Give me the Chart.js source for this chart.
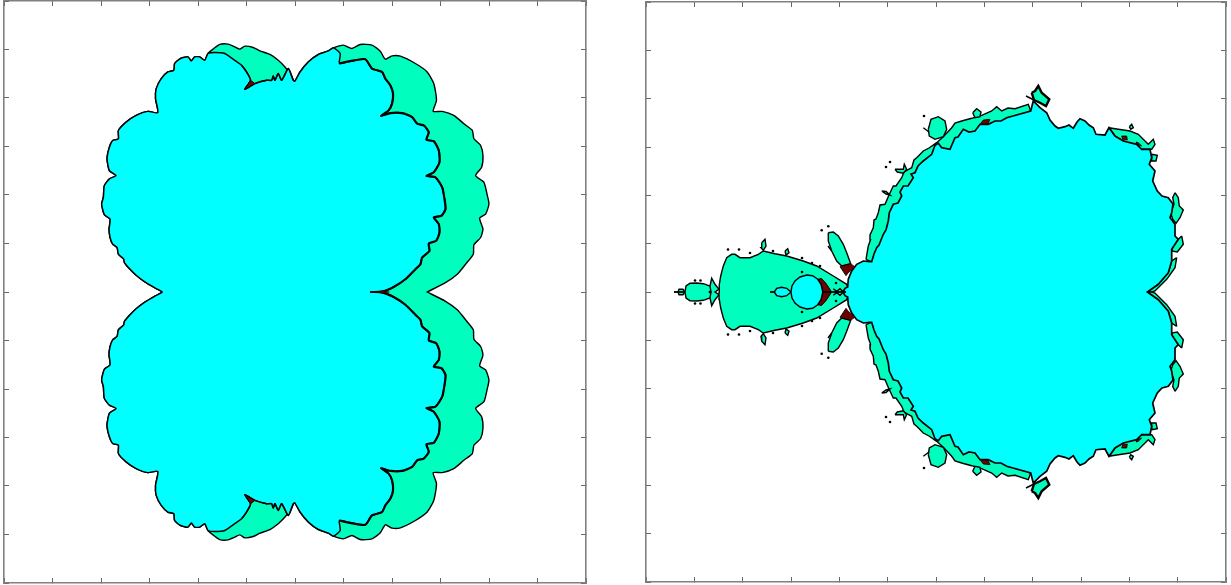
<!DOCTYPE html>
<html><head><meta charset="utf-8">
<style>html,body{margin:0;padding:0;background:#fff;overflow:hidden;width:1231px;height:585px}
.p{position:absolute;top:-2.5px;width:588px;height:588px}</style>
<script src="https://cdn.jsdelivr.net/npm/chart.js@4"></script></head>
<body><div class="p" style="left:1px"><canvas id="a"></canvas></div><div class="p" style="left:642px"><canvas id="b"></canvas></div>
<script>
const CYAN='#00FFFF',GREEN='#00FFBF',RED='#6B0000';
// Each list: upper half of a boundary, [x,y]; the figures are symmetric about y=0
const leftWest=[[158,0],[150,4.3],[140,10.3],[131.7,16.7],[125,23.3],[120,29.3],[119.3,32.7],[114,37.7],[112.7,44.3],[108.3,47.7],[105.7,54.3],[104.7,62.7],[105.7,72.7],[100,77],[97.3,87.7],[99,94.3],[100,106],[105,112.7],[111.7,116],[105,121],[102.7,132.7],[105,144.3],[108.3,151],[114,152.7],[114,161],[121.7,169.3],[131.7,176],[143.3,180],[153.3,178.7],[151,192.7],[151.7,202.7],[156.7,212.7],[163.3,219.3],[169.3,221],[170,227.7],[176,232.7],[183.3,234.3],[186.7,230.3],[190,234.3],[195,234.3],[200,231],[203.3,237.7]];
const leftOuterTop=[[208.3,242],[215,246.7],[223.3,247],[230,244.3],[235,242],[240,245],[248.3,243.7],[255,240.3],[265,236.7],[273.3,231],[280,224.3],[285,217.7]];
const leftNeck=[[289.7,210],[295,219.3],[303.3,229.3],[313.3,236.7],[323.3,240.3],[328.3,243.3]];
const leftOuterEast=[[338.3,246],[346.7,242.7],[355,246.7],[366.7,246],[375,240],[380,232],[386.7,235.3],[395,235],[410,227.7],[421.7,219.3],[428.3,207.7],[431,191],[427.7,180],[436.7,180],[448.3,176],[458.3,167.7],[466.7,161],[468.3,152.7],[475,146],[477.3,136],[476,124.3],[470,116],[478.3,109.3],[481.7,96],[483.3,87.7],[480,77.7],[474,73.7],[477.3,62.7],[475,54.3],[468.3,47],[467.7,37.7],[460,27.7],[451.7,17.7],[440,9.3],[421.7,0]];
const leftInnerTop=[[210,238.7],[220,237.7],[228.3,232],[236.7,226],[241.7,219.3],[245.7,211],[240,202],[250,207.7],[261.7,211],[266.7,211],[268.3,215.3],[270,211],[273.3,217.7],[276.7,211],[283.3,222.7],[288.3,211]];
const leftInnerEast=[[335,237.7],[334.3,227.7],[345,230],[360,232],[366.7,222.7],[376.7,219.3],[380,212.7],[385,206],[387.7,197.7],[386.7,187.7],[383.3,181],[375.7,175.5],[385,178.3],[396.7,178.3],[406.7,174.3],[411.7,167.7],[418.3,166],[423.3,159.3],[421,151.7],[428.3,150.3],[433.3,141],[434,129.3],[428.3,119.3],[421,115.7],[430,114.3],[436.7,104.3],[439,92.7],[440,82.7],[436,76],[428.3,74.3],[433.3,67.7],[434,59.3],[430.7,51],[423.3,48.3],[424,41],[416.7,34.3],[415,27.7],[410,22.7],[400,12.7],[388.3,5],[376.7,0.3],[365,0]];
const leftRedNotch=[[245.7,211],[240,202],[250,207.7],[247,210]];
const leftRedCusp=[[371,0],[377,1.2],[384,0]];
const rightCyan=[[197,0],[199,3.7],[201.7,5],[202.3,12.7],[205.7,21],[210.7,27.7],[217.3,31],[224,30.3],[225.7,30.3],[228,38],[230.7,44.3],[233,47],[237.3,57.7],[240,62],[242.3,71],[243.3,79.3],[247.3,87.7],[252,89],[255.7,96],[254,100],[257.3,106],[262,106],[267.3,114.3],[265,118],[269,119.3],[272,126],[277.3,131],[285.7,137.7],[289,146.7],[292.3,148.7],[295.7,144.3],[304,142.7],[309,154.3],[312,155],[317.3,162.7],[323,160],[329,161],[334,167.7],[342.3,167.7],[349,171],[355,171],[360.7,174.3],[384.7,181],[387.3,191],[394,184.3],[400.7,179.3],[404,172],[409,166],[412.3,163.7],[419,165.3],[423,167],[427.3,163.7],[431,170],[434,173.3],[439,171],[443,167],[447.3,164.3],[450,157.7],[459,157],[463,164.3],[469,156],[477.3,151],[490.7,147.7],[495.7,142.7],[504,142.7],[505.7,134.3],[503.3,127.7],[509,121],[506.7,111],[511.3,101],[516,96],[522.3,94.3],[527,88],[525.7,79.3],[524,74.3],[529,67.7],[529,56],[532.3,52.7],[525.7,42.7],[525.7,31],[522.3,19.3],[512.3,7.7],[501.3,0]];
const rightBody=[[73,0],[73.3,7.3],[74.7,16],[77.3,26],[80.7,34.3],[85.7,37.7],[89,37.7],[94,34.3],[104,34.3],[112.3,37.7],[117.3,41],[129,38.3],[140.7,36],[157.3,31],[170.7,26],[187.3,16],[200.7,7.7],[203,0]];
const rightFarBlob=[[39,0],[40,6],[44,8.7],[50.7,9],[57.3,8.3],[64,6],[67.3,1.7],[67.3,0]];
const rightFarTip=[[32,0],[33,2.7],[37,2.7],[39,0]];
const rightLeaf=[[65,0],[64,6],[65.7,13.7],[69,7.7],[73,2.7],[69,0]];
const rightBulb=[[145,0.3],[146,6],[149,11],[154,15],[160.7,17],[166.7,16.3],[171.7,12.7],[175,7.7],[176.7,0.3]];
const rightMini=[[128.3,0],[130.7,3.7],[135.7,4.7],[140.7,3.7],[145,0]];
const rightWedge=[[171.7,12.7],[175.5,13.5],[179.7,9],[185.7,0],[176.7,0],[175,7.7]];
const rightBand=[[220,32.7],[222.3,46],[224.5,52],[224,57],[227.3,64.3],[228,72],[230,73],[232.3,79.3],[234,87],[239,87.7],[243,97],[247.3,106],[250,106],[255.7,114.3],[258,120],[265.7,124.3],[268,132],[270.7,134.3],[277.3,141],[283,144],[290.7,149.3],[297.3,155.3],[305.7,164.3],[309,169],[315.7,171],[325.7,173.7],[335.7,176.7],[345.7,181],[350.7,185.3],[355.7,181],[362,184],[369,183.3],[382.3,187.7],[384.7,181],[330.7,155],[280.7,124.3],[245,57.7],[227.3,29.3]];
const rightPetal=[[182.3,59.3],[187.3,60],[192.3,56],[197.3,47.7],[200.7,39.3],[204.7,28.3],[195.7,26],[190.7,31],[185.7,41],[182.3,51]];
const rightPetalRed=[[194,25.3],[204.7,28.3],[209,25],[202.3,19.3],[200,16.3]];
const rightKnobA=[[115.7,49.3],[119,52.7],[120,46],[117.3,41.7],[115,44.3]];
const rightKnobB=[[139,41],[141.7,43.3],[143,39.3],[140,37]];
const rightBigBud=[[282.3,162.7],[285,172.7],[292.3,175.3],[299,171],[300.7,162.7],[297.3,155.3],[289,152.7],[283.3,156]];
const rightSmallBud=[[326.7,179.3],[330.7,183.3],[335,180],[334,175.3],[329,174.3]];
const rightSprig=[[249,122.7],[257.3,122.7],[258.3,127.7],[260.7,122.7],[257.3,118.7],[251.3,120]];
const rightCrown=[[385.7,199.3],[389,201],[392.3,206],[395.7,199.3],[403.3,192.7],[400,186],[394,189.3],[388,192]];
const rightShoulder=[[463,164.3],[469,163.3],[484,161],[492.3,157.7],[502.3,147.7],[507.3,152.7],[509,147.7],[505.7,142.7],[495.7,142.7],[477.3,151],[469,156]];
const rightTab=[[505.7,137.7],[511.3,136.7],[510,131],[505.7,131]];
const rightFlake=[[483.3,165.3],[485.7,167.7],[487.3,164.3],[484.7,162.7]];
const rightFragA=[[529,99.3],[532.3,94.3],[533.3,86],[537.3,82],[534,74.3],[530,68.7],[526.7,72.7],[524.7,79.3],[528,87.7],[526.7,94.3]];
const rightFragB=[[535.7,56],[537.3,47.7],[531.3,40],[525.7,41],[527.3,47.7],[532.3,52.7]];
const rightFragC=[[530.7,34.3],[529,24.3],[520.7,12.7],[509,1],[505.7,0],[501.3,0],[512.3,7.7],[522.3,19.3],[525.7,31]];
const rightSliver=[[235.7,101],[240,100.5],[244,97],[240,98]];
const rightBandRed=[[334,167.7],[337.3,172],[344,172.7],[342.3,168.7]];
const rightShoulderRedA=[[475.7,156],[480.7,156],[481.3,152],[476.7,152.7]];
const rightShoulderRedB=[[490,150],[492.3,149.3],[495.7,146],[491,147.7]];
const rightHairs=[[[124,0],[129,0]],[[176.7,0],[200,0]],[[28,0],[39,0]],[[380,196],[388,192]],[[277.3,164.3],[283,160]],[[185.7,41],[182,46]]];
const rightSpurs=[[187.3,3.3],[190.7,0.7],[194,3.3],[196.7,0.7]];
const rightDots=[[82,42.5],[93,42.5],[104,39],[127,41],[156,34],[166,29],[174,26],[156,20],[190,9],[49,11.5],[54.5,11.5],[175.7,61.7],[182.3,65.7],[64,0],[278,176],[244,130],[240,125]];

const pts=a=>a.map(([x,y])=>({x,y}));
const whole=h=>h.concat(h.slice().reverse().map(([x,y])=>[x,-y]));
const flip=h=>h.map(([x,y])=>[x,-y]);
const ring=h=>h.concat([h[0]]);
function ds(list){return list.map((s,i)=>({data:pts(s.p),type:'line',fill:s.f?'shape':false,backgroundColor:s.f||'transparent',borderColor:s.c||'#000',borderWidth:s.w===undefined?1.4:s.w,pointRadius:s.r||0,pointBackgroundColor:'#000',pointBorderWidth:0,showLine:s.r?false:true,tension:s.t||0,order:list.length-i,clip:false}))}
function axes(){const g=(p,n)=>({type:'linear',position:p,min:n?-290:0,max:n?290:580,ticks:{display:false,stepSize:580/12},grid:{drawOnChartArea:false,tickLength:-5,color:'#666',lineWidth:1},border:{color:'#808080',width:1.6},afterFit:s=>{if(n)s.width=0;else s.height=0}});
 return{x:g('bottom',false),x2:g('top',false),y:g('left',true),y2:g('right',true)}}
function chart(id,list){new Chart(document.getElementById(id),{type:'line',data:{datasets:ds(list)},options:{responsive:true,maintainAspectRatio:false,animation:false,parsing:{xAxisKey:'x',yAxisKey:'y'},layout:{padding:3},plugins:{legend:{display:false},tooltip:{enabled:false}},scales:axes()}})}
chart('a',[
 {p:whole(leftWest.concat(leftOuterTop,leftNeck,leftOuterEast)),f:GREEN,t:0.2},
 {p:whole(leftWest.concat(leftInnerTop,leftNeck,leftInnerEast)),f:CYAN,w:1.5,t:0.2},
 {p:leftInnerTop.slice(3),t:0.2},{p:flip(leftInnerTop.slice(3)),t:0.2},
 {p:leftInnerEast.slice(1),w:2.2,t:0.2},{p:flip(leftInnerEast.slice(1)),w:2.2,t:0.2},
 {p:ring(leftRedNotch),f:RED,w:1},{p:ring(flip(leftRedNotch)),f:RED,w:1},
 {p:whole(leftRedCusp),f:RED,w:0.6}
]);
const both=[rightBand,rightPetal,rightKnobA,rightKnobB,rightBigBud,rightSmallBud,rightSprig,rightShoulder,rightTab,rightFlake,rightFragA,rightFragB,rightFragC,rightSliver];
const list=[];
both.forEach(h=>{list.push({p:ring(h),f:GREEN},{p:ring(flip(h)),f:GREEN})});
list.push({p:ring(rightCrown),f:GREEN,w:2.4},{p:ring(flip(rightCrown)),f:GREEN,w:2.4});
list.push({p:whole(rightFarTip),f:GREEN},{p:whole(rightFarBlob),f:GREEN},{p:whole(rightLeaf),f:GREEN},{p:whole(rightBody),f:GREEN});
list.push({p:whole(rightCyan),f:CYAN,w:1.7});
[rightPetalRed,rightBandRed,rightShoulderRedA,rightShoulderRedB].forEach(h=>{list.push({p:ring(h),f:RED,w:0.8},{p:ring(flip(h)),f:RED,w:0.8})});
list.push({p:whole(rightWedge),f:RED,w:1},{p:whole(rightBulb),f:CYAN},{p:whole(rightMini),f:CYAN});
rightHairs.forEach(h=>{list.push({p:h},{p:flip(h)})});
list.push({p:rightSpurs},{p:flip(rightSpurs)});
list.push({p:rightDots.concat(flip(rightDots)),r:1.3});
chart('b',list);
</script></body></html>
